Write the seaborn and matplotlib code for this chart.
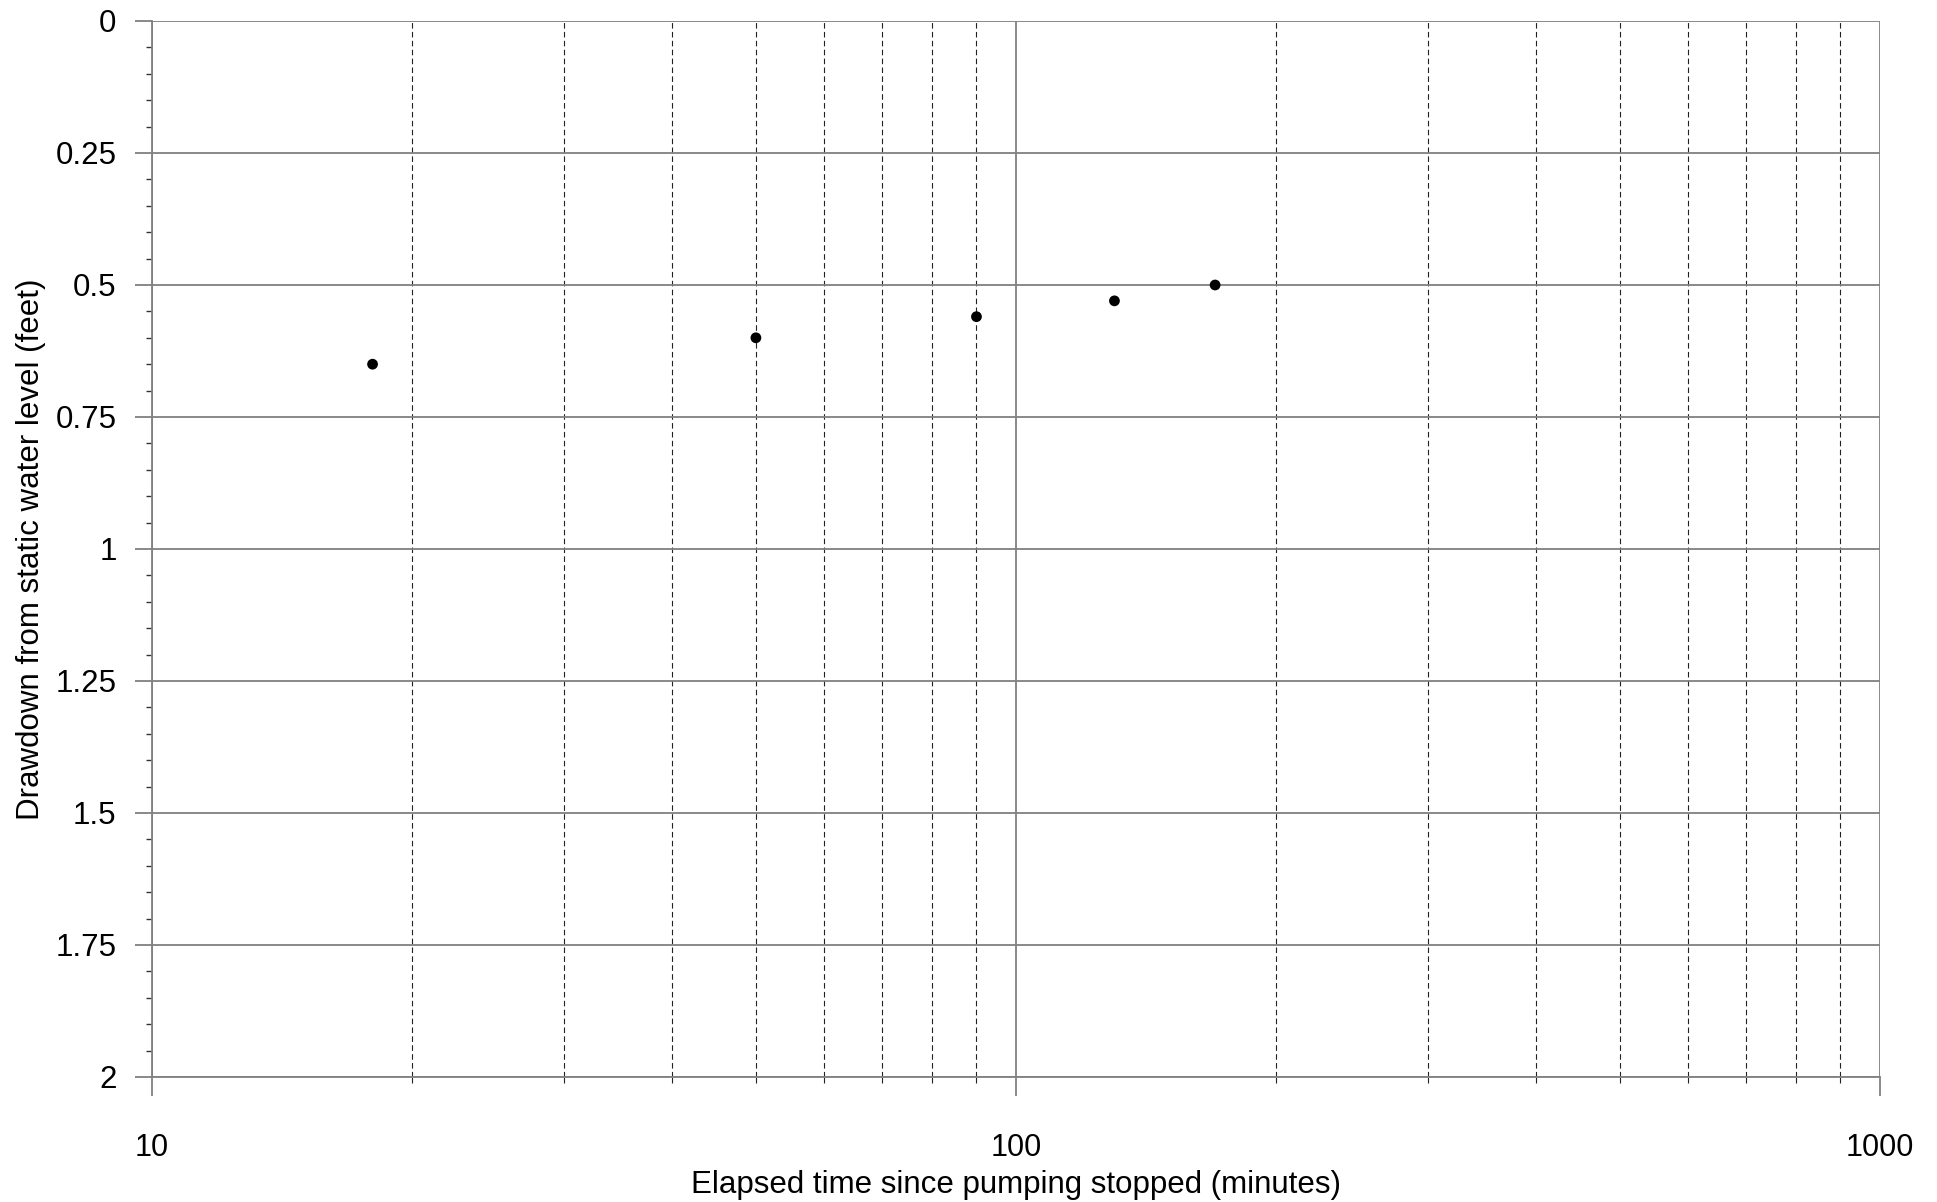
import matplotlib
matplotlib.use("Agg")
import matplotlib.pyplot as plt
import matplotlib.ticker as mticker
import numpy as np
import pandas as pd
import seaborn as sns

# Recovery test observations
elapsed_minutes = [18, 50, 90, 130, 170]
drawdown_feet = [0.65, 0.60, 0.56, 0.53, 0.50]

x_major_ticks = [10, 100, 1000]
y_major_ticks = [0, 0.25, 0.5, 0.75, 1, 1.25, 1.5, 1.75, 2]

sns.set_theme(style="white")
plt.rcParams["font.family"] = ["Liberation Sans", "DejaVu Sans"]

df = pd.DataFrame({"elapsed": elapsed_minutes, "drawdown": drawdown_feet})

DPI = 100
fig = plt.figure(figsize=(1937 / DPI, 1202 / DPI), dpi=DPI)
ax = fig.add_axes([152 / 1937, 1 - 1077 / 1202, 1728 / 1937, 1056 / 1202])

grid_grey = "#808080"

sns.scatterplot(data=df, x="elapsed", y="drawdown", ax=ax, color="black",
                s=60, edgecolor="none", zorder=5)

ax.set_xscale("log")
ax.set_xlim(10, 1000)
ax.set_ylim(2, 0)

ax.xaxis.set_major_locator(mticker.FixedLocator(x_major_ticks))
ax.xaxis.set_minor_locator(mticker.LogLocator(base=10, subs=np.arange(2, 10)))
ax.xaxis.set_major_formatter(mticker.FuncFormatter(lambda v, p: f"{v:g}"))
ax.xaxis.set_minor_formatter(mticker.NullFormatter())

ax.yaxis.set_major_locator(mticker.FixedLocator(y_major_ticks))
ax.yaxis.set_minor_locator(mticker.MultipleLocator(0.05))
ax.yaxis.set_major_formatter(mticker.FuncFormatter(lambda v, p: f"{v:g}"))

# Grid: solid grey at major ticks, dashed dark lines at x minor ticks
ax.grid(which="major", axis="both", color=grid_grey, linewidth=1.3, linestyle="-")
ax.grid(which="minor", axis="x", color="#222222", linewidth=0.8, linestyle=(0, (5, 3)))
ax.grid(which="minor", axis="y", visible=False)
ax.set_axisbelow(True)

for side in ["top", "right"]:
    ax.spines[side].set_visible(False)
for side in ["left", "bottom"]:
    ax.spines[side].set_color(grid_grey)
    ax.spines[side].set_linewidth(1.3)

ax.tick_params(axis="x", which="major", direction="out", length=14, width=1.3,
               color=grid_grey, labelsize=22, pad=26, labelcolor="black", bottom=True)
ax.tick_params(axis="x", which="minor", direction="out", length=4.5, width=0.8,
               color="#222222", bottom=True)
ax.tick_params(axis="y", which="major", direction="out", length=12, width=1.3,
               color=grid_grey, labelsize=22.5, pad=13.5, labelcolor="black", left=True)
ax.tick_params(axis="y", which="minor", direction="out", length=4.5, width=1.0,
               color="#333333", left=True)

ax.set_xlabel("Elapsed time since pumping stopped (minutes)", fontsize=22.5,
              color="black", labelpad=5)
ax.set_ylabel("Drawdown from static water level (feet)", fontsize=22.5,
              color="black", labelpad=7)

fig.savefig("out.png", dpi=DPI, facecolor="white")
